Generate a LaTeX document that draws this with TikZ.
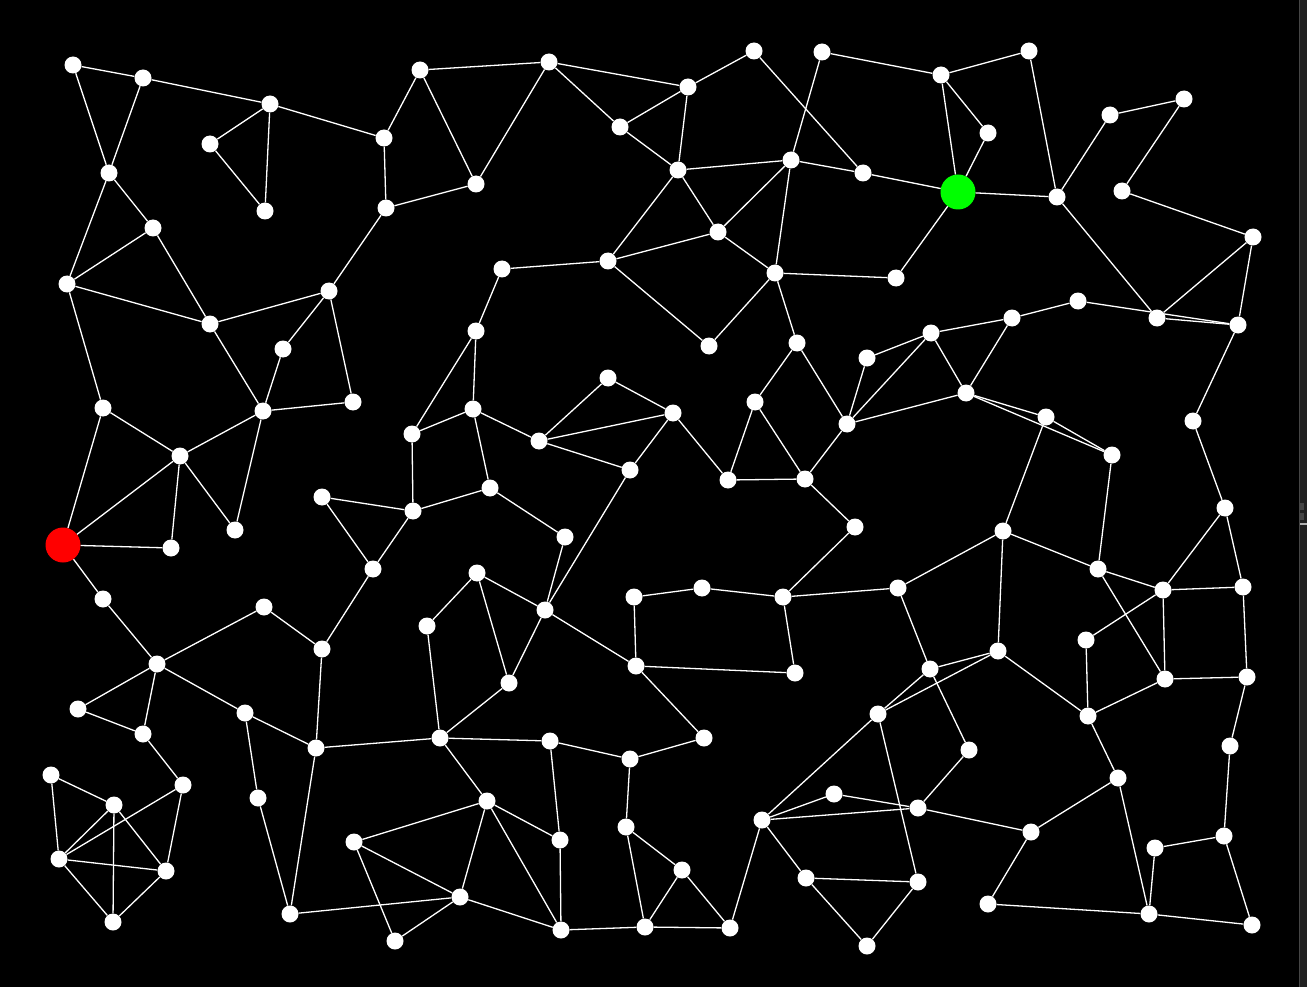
\documentclass[tikz,border=0pt]{standalone}
\usetikzlibrary{backgrounds}
\definecolor{stripgray}{gray}{0.13}
\definecolor{stripline}{gray}{0.27}
\definecolor{startred}{RGB}{255,0,0}
\definecolor{goalgreen}{RGB}{0,255,0}
\tikzset{
  dot/.style={circle,fill=white,draw=none,inner sep=0pt,minimum size=17pt},
  bigred/.style={circle,fill=startred,draw=none,inner sep=0pt,minimum size=35pt},
  biggreen/.style={circle,fill=goalgreen,draw=none,inner sep=0pt,minimum size=35pt},
  edge/.style={draw=white,line width=1.3pt}
}
\begin{document}
\begin{tikzpicture}[x=1pt,y=-1pt]
\useasboundingbox (0,0) rectangle (1307,987);
\fill[black] (0,0) rectangle (1307,987);
\fill[stripgray] (1300,0) rectangle (1307,987);
\draw[stripline,line width=1pt] (1299.5,0) -- (1299.5,987);
\fill[stripline] (1300,503) rectangle (1304,510);
\fill[stripline] (1300,513) rectangle (1304,520);
\fill[gray!60] (1300,523) rectangle (1307,525);
\foreach \n/\x/\y in {
1/73/65, 2/143/78, 3/270/104, 4/210/144, 5/265/211, 6/384/138, 7/109/173, 8/153/228,
9/67/284, 10/210/324, 11/329/291, 12/283/349, 13/386/208, 14/420/70, 15/476/184,
16/549/62, 17/620/127, 18/688/87, 19/754/51, 20/678/170, 21/822/52, 22/791/160,
23/863/173, 24/941/75, 25/988/133, 27/1029/51, 28/1057/197, 29/1110/115,
30/1184/99, 31/1122/191, 32/1253/237, 33/1157/318, 34/1238/325, 35/1078/301,
36/1012/318, 37/931/333, 38/867/358, 39/966/393, 40/847/424, 41/797/343,
42/755/402, 43/728/480, 44/805/479, 45/855/527, 46/896/278, 47/775/273, 48/718/232,
49/608/261, 50/709/346, 51/502/269, 52/476/331, 53/473/409, 54/412/434, 55/539/441,
56/608/378, 57/673/413, 58/630/470, 59/490/488, 60/413/511, 61/322/497, 62/373/569,
63/565/537, 64/353/402, 65/263/411, 66/103/408, 67/180/456, 68/235/530, 69/171/548,
71/103/599, 72/157/664, 73/264/607, 74/322/649, 75/78/709, 76/143/734,
77/183/785, 78/245/713, 79/258/798, 80/316/748, 81/51/775, 82/114/805, 83/59/859,
84/166/871, 85/113/922, 86/290/914, 87/477/573, 88/427/626, 89/545/610, 90/509/683,
91/440/738, 92/550/741, 93/487/801, 94/354/842, 95/460/897, 96/395/941, 97/560/840,
98/561/930, 99/630/759, 100/704/738, 101/626/827, 102/682/870, 103/645/927,
104/730/928, 105/636/666, 106/634/597, 107/702/588, 108/783/597, 109/795/673,
110/898/588, 111/1003/531, 112/1046/417, 113/1112/455, 114/1193/421, 115/1225/508,
116/1243/587, 117/1163/590, 118/1098/569, 119/998/651, 120/930/669, 121/878/714,
122/969/750, 123/1086/640, 124/1088/716, 125/1165/679, 126/1247/677, 127/1230/746,
128/1118/778, 129/1224/836, 130/1155/848, 131/1149/914, 132/1252/925, 133/988/904,
134/1031/832, 135/918/808, 136/834/794, 137/762/820, 138/806/878, 139/918/882,
140/867/946}
  \node[dot] (n\n) at (\x,\y) {};
\node[biggreen] (n26) at (958,192) {};
\node[bigred] (n70) at (63,545) {};
\foreach \a/\b in {
1/2, 2/3, 3/6, 3/4, 3/5, 4/5, 1/7, 2/7, 7/8, 7/9, 8/9, 8/10, 9/10, 10/11, 11/12,
11/13, 11/64, 12/65, 10/65, 9/66,
6/14, 14/16, 14/15, 16/15, 16/18, 16/17, 17/18, 17/20, 18/20, 6/13, 13/15, 20/49,
49/51, 49/48, 49/50, 51/52, 52/54, 52/53,
18/19, 19/23, 21/24, 21/22, 24/27, 24/25, 24/26, 25/26, 26/23, 26/28, 26/46, 20/22,
22/23, 20/48, 22/48, 22/47, 48/47, 47/46, 47/50, 47/41, 41/42, 41/40, 38/37, 37/40,
38/40, 37/39, 37/36, 39/36, 40/39, 39/112, 39/113, 112/113,
27/28, 28/29, 29/30, 30/31, 31/32, 28/33, 33/32, 32/34, 35/34, 33/34, 36/35, 34/114,
42/43, 42/44, 57/43, 43/44, 44/40, 44/45, 45/108, 107/108, 108/110, 110/111, 108/109,
110/120, 120/119, 106/107, 57/56, 57/55, 57/58,
112/111, 113/118, 111/118, 111/119, 118/117, 118/125, 117/115, 117/116, 117/123,
117/125, 116/126, 114/115, 115/116, 123/124,
119/124, 124/125, 125/126, 126/127, 124/128, 128/134, 128/131, 134/133, 133/131,
131/130, 130/129, 129/132, 131/132, 129/127, 134/135, 122/120,
119/121, 105/109, 99/100, 105/100, 120/121, 121/137, 121/139, 122/135, 135/136,
136/137, 137/135, 137/138, 137/104, 138/139, 138/140, 139/140, 102/104, 103/104,
101/102, 102/103,
88/91, 90/91, 87/90, 89/90, 91/92, 80/91, 91/93, 92/99, 92/97, 93/97, 93/98, 93/95,
93/94, 94/95, 94/96, 95/96, 86/95, 95/98, 97/98, 98/103, 99/101, 101/103, 106/105,
89/105,
71/72, 72/73, 72/75, 72/76, 72/78, 75/76, 76/77, 78/80, 78/79, 80/74, 80/86, 79/86,
77/83, 77/84, 81/82, 81/83, 82/83, 82/84, 82/85, 83/84, 83/85, 84/85,
66/67, 66/70, 67/65, 67/70, 67/69, 67/68, 65/68, 65/64, 70/69, 70/71, 73/74, 74/62,
61/62, 61/60,
54/53, 53/55, 53/59, 54/60, 60/59, 60/62, 55/56, 55/58, 58/89, 59/63, 63/89, 87/88,
87/89}
  \draw[edge] (n\a) -- (n\b);
\end{tikzpicture}
\end{document}
